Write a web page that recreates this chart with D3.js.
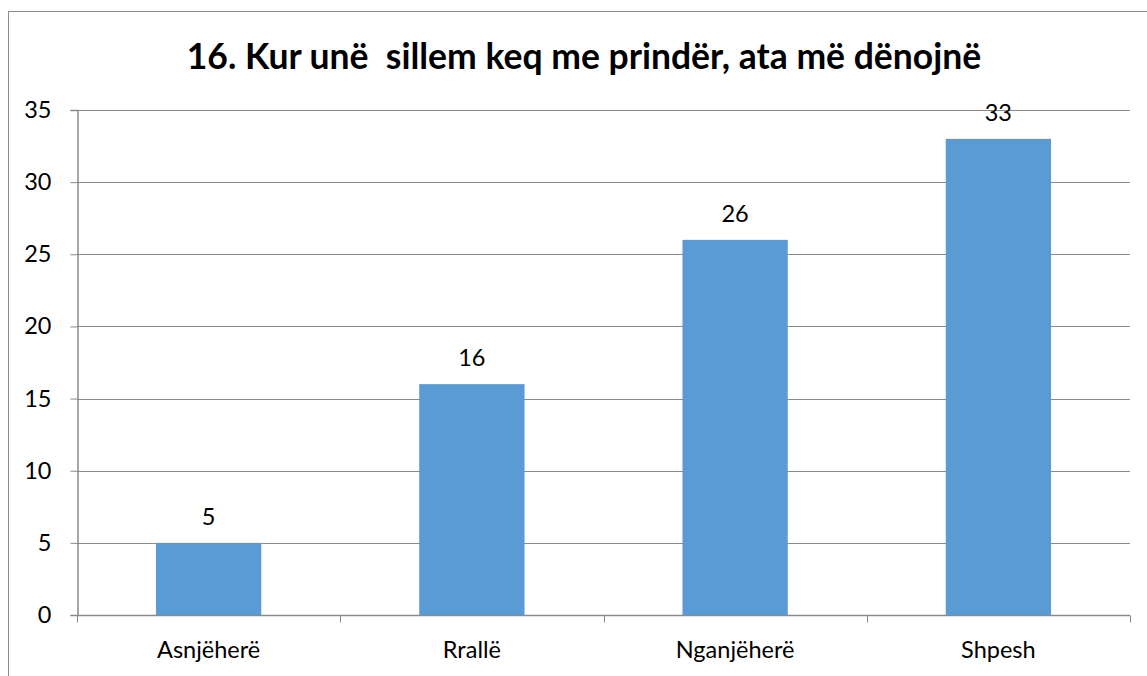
<!DOCTYPE html>
<html>
<head>
<meta charset="utf-8">
<script src="https://cdn.jsdelivr.net/npm/d3@7"></script>
<style>
  html, body { margin: 0; padding: 0; background: #fff; }
  svg { display: block; }
</style>
</head>
<body>
<svg id="chart" width="1147" height="676"></svg>
<script>
// Survey answers and counts
const categories = ["Asnjëherë", "Rrallë", "Nganjëherë", "Shpesh"];
const counts = [5, 16, 26, 33];
const yTicks = [0, 5, 10, 15, 20, 25, 30, 35];
const titleText = "16. Kur unë\u00a0 sillem keq me prindër, ata më dënojnë";

const svg = d3.select("#chart");
const plot = { left: 77, right: 1130, top: 110, bottom: 615 };
const fontFamily = "Lato, 'Open Sans', 'DejaVu Sans', sans-serif";
const labelSize = 23.5;

// Outer chart frame
svg.append("rect")
  .attr("x", 8.5).attr("y", 11.5)
  .attr("width", 1160).attr("height", 700)
  .attr("fill", "none").attr("stroke", "#8c8c8c").attr("stroke-width", 1);

const x = d3.scaleBand()
  .domain(categories)
  .range([plot.left, plot.right])
  .paddingInner(0.6).paddingOuter(0.3);

const y = d3.scaleLinear().domain([0, 35]).range([plot.bottom, plot.top]);

// Horizontal gridlines
svg.append("g")
  .selectAll("line")
  .data(yTicks.filter(d => d > 0))
  .join("line")
  .attr("x1", plot.left).attr("x2", plot.right)
  .attr("y1", d => Math.round(y(d)) + 0.5).attr("y2", d => Math.round(y(d)) + 0.5)
  .attr("stroke", "#8a8a8a").attr("stroke-width", 1);

// Bars
svg.append("g")
  .selectAll("rect")
  .data(counts)
  .join("rect")
  .attr("x", (d, i) => x(categories[i]))
  .attr("y", d => y(d))
  .attr("width", x.bandwidth())
  .attr("height", d => y(0) - y(d))
  .attr("fill", "#5b9bd5");

// Value labels
svg.append("g")
  .selectAll("text")
  .data(counts)
  .join("text")
  .attr("x", (d, i) => x(categories[i]) + x.bandwidth() / 2)
  .attr("y", d => y(d) - 18)
  .attr("text-anchor", "middle")
  .attr("font-family", fontFamily)
  .attr("font-size", labelSize)
  .attr("fill", "#000")
  .text(d => d);

// Y axis
const yAxis = d3.axisLeft(y).tickValues(yTicks).tickSize(7).tickPadding(19).tickFormat(d3.format("d"));
const gy = svg.append("g")
  .attr("transform", `translate(${plot.left + 0.5},0)`)
  .call(yAxis);
gy.select(".domain").attr("stroke", "#8a8a8a").attr("stroke-width", 1.5);
gy.selectAll(".tick line").attr("stroke", "#8a8a8a");
gy.selectAll(".tick text")
  .attr("font-family", fontFamily).attr("font-size", labelSize).attr("fill", "#000");

// X axis
const xBoundaries = d3.scaleLinear().domain([0, categories.length]).range([plot.left, plot.right]);
const gx = svg.append("g").attr("transform", `translate(0,${plot.bottom + 0.5})`);
gx.append("line")
  .attr("x1", plot.left).attr("x2", plot.right)
  .attr("stroke", "#8a8a8a").attr("stroke-width", 1.5);
gx.selectAll("line.tick")
  .data(d3.range(categories.length + 1))
  .join("line")
  .attr("class", "tick")
  .attr("x1", d => Math.round(xBoundaries(d)) + 0.5).attr("x2", d => Math.round(xBoundaries(d)) + 0.5)
  .attr("y1", 0).attr("y2", 7)
  .attr("stroke", "#8a8a8a");
gx.selectAll("text")
  .data(categories)
  .join("text")
  .attr("x", d => x(d) + x.bandwidth() / 2)
  .attr("y", 42)
  .attr("text-anchor", "middle")
  .attr("font-family", fontFamily)
  .attr("font-size", labelSize)
  .attr("fill", "#000")
  .text(d => d);

// Title
svg.append("text")
  .attr("x", 584).attr("y", 69)
  .attr("text-anchor", "middle")
  .attr("font-family", fontFamily)
  .attr("font-weight", "bold")
  .attr("font-size", 35.5)
  .attr("fill", "#000")
  .text(titleText);
</script>
</body>
</html>
